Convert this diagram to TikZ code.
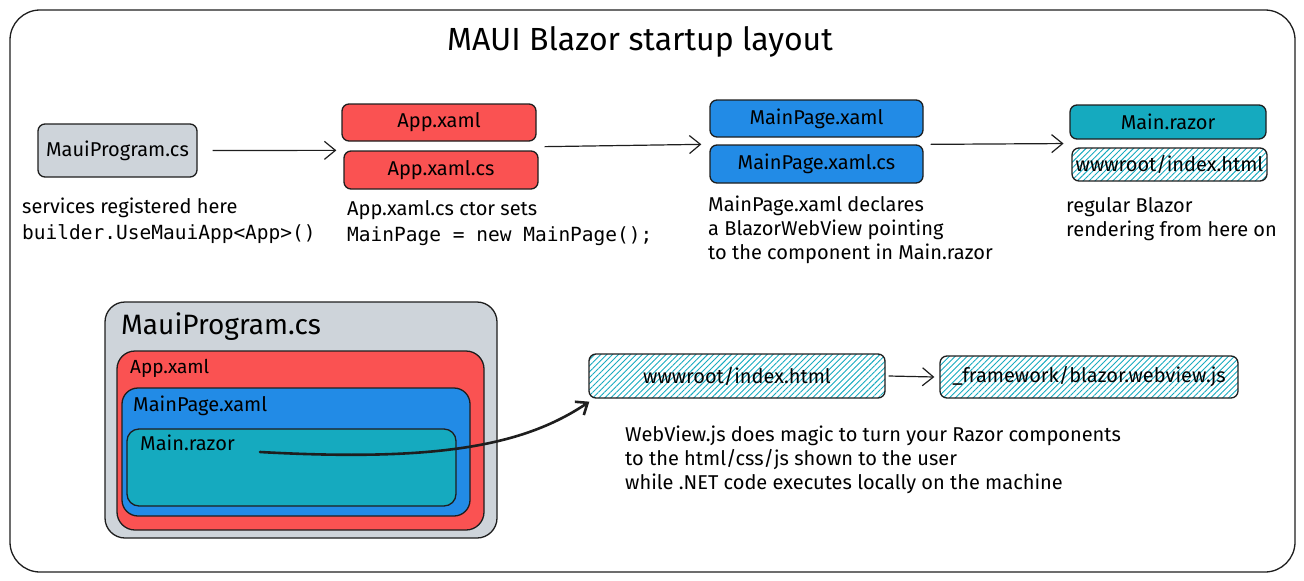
\documentclass[tikz,border=0pt]{standalone}
\usepackage{fontspec}
\setmainfont{Fira Sans}
\setmonofont{DejaVu Sans Mono}
\usetikzlibrary{arrows.meta,patterns.meta}
\definecolor{ink}{HTML}{1E1E1E}
\definecolor{gbox}{HTML}{CED4DA}
\definecolor{rbox}{HTML}{FA5252}
\definecolor{bbox}{HTML}{228BE6}
\definecolor{tbox}{HTML}{15AABF}
\tikzset{
  box/.style={draw=ink, line width=1.3pt, rounded corners=7pt, inner sep=0pt, font=\fontsize{20}{22}\selectfont},
  hatch/.style={box, pattern={Lines[angle=45,distance=4.2pt,line width=0.9pt]}, pattern color=tbox},
  arr/.style={draw=ink, line width=1.2pt, -{Straight Barb[length=11pt,width=18pt,line width=1.2pt]}},
  desc/.style={anchor=north west, align=left, inner sep=0pt, font=\fontsize{20}{24}\selectfont},
  lbl/.style={anchor=north west, inner sep=0pt},
}
\begin{document}
\begin{tikzpicture}[x=1pt,y=-1pt]
\useasboundingbox (0,0) rectangle (1304,581);
% frame
\node[draw=ink, line width=1.3pt, rounded corners=30pt, minimum width=1285pt, minimum height=562pt, inner sep=0pt] (frame) at (652.5,291) {};
\node[font=\fontsize{32}{34}\selectfont] (title) at (640,42) {MAUI Blazor startup layout};

% top row
\node[box, fill=gbox, minimum width=159pt, minimum height=53pt] (mp) at (117.5,150.5) {MauiProgram.cs};
\node[box, fill=rbox, minimum width=194pt, minimum height=37pt] (app) at (439,122.5) {App.xaml};
\node[box, fill=rbox, minimum width=194pt, minimum height=38pt] (appcs) at (441,170) {App.xaml.cs};
\node[box, fill=bbox, minimum width=213pt, minimum height=37pt] (mpx) at (816.5,118.5) {MainPage.xaml};
\node[box, fill=bbox, minimum width=213pt, minimum height=38pt] (mpcs) at (816.5,164) {MainPage.xaml.cs};
\node[box, fill=tbox, minimum width=196pt, minimum height=34pt] (razor) at (1168,122) {Main.razor};
\node[hatch, minimum width=195pt, minimum height=33pt] (idx1) at (1169.5,164.5) {wwwroot/index.html};

\draw[arr] ([xshift=15pt]mp.east) -- ([xshift=-7pt]appcs.north west);
\draw[arr] ([xshift=8pt,yshift=-5pt]app.south east) -- ([xshift=-8pt]mpcs.north west);
\draw[arr] ([xshift=7pt]mpcs.north east) -- ([xshift=-8pt,yshift=4pt]idx1.north west);

% descriptions
\node[desc] (d1) at (22,198) {services registered here\\[2pt]{\fontsize{19.5}{24}\ttfamily builder.UseMauiApp<App>()}};
\node[desc] (d2) at (347,200) {App.xaml.cs ctor sets\\[2pt]{\fontsize{19.5}{24}\ttfamily MainPage = new MainPage();}};
\node[desc] (d3) at (708,196) {MainPage.xaml declares\\a BlazorWebView pointing\\to the component in Main.razor};
\node[desc] (d4) at (1066,197) {regular Blazor\\rendering from here on};

% bottom nested boxes
\node[box, fill=gbox, rounded corners=20pt, minimum width=392pt, minimum height=236pt] (outer) at (301,420) {};
\node[lbl, font=\fontsize{28}{30}\selectfont] (outerl) at (121,312) {MauiProgram.cs};
\node[box, fill=rbox, rounded corners=18pt, minimum width=367pt, minimum height=179pt] (red) at (300.5,440.5) {};
\node[lbl, font=\fontsize{19}{20}\selectfont] (redl) at (130,359) {App.xaml};
\node[box, fill=bbox, rounded corners=16pt, minimum width=348pt, minimum height=128pt] (blue) at (296,452) {};
\node[lbl, font=\fontsize{20}{20}\selectfont] (bluel) at (133,396) {MainPage.xaml};
\node[box, fill=tbox, rounded corners=12pt, minimum width=329pt, minimum height=77pt] (teal) at (291.5,467.5) {};
\node[lbl, font=\fontsize{20}{20}\selectfont] (teall) at (140,435) {Main.razor};

\node[hatch, minimum width=296pt, minimum height=44pt] (idx2) at (737,376) {wwwroot/index.html};
\node[hatch, minimum width=298pt, minimum height=42pt] (fw) at (1089,377) {\_framework/blazor.webview.js};
\draw[arr] ([xshift=3pt]idx2.east) -- ([xshift=-5pt]fw.west);

\coordinate (cs) at (260,452);
\draw[ink, line width=2.6pt, line cap=round, -{Straight Barb[length=10pt,width=16pt,line width=2.6pt]}] (cs) .. controls (440,462) and (525,445) .. ([xshift=1pt,yshift=-3pt]idx2.south west);

\node[desc] (d5) at (625,426) {WebView.js does magic to turn your Razor components\\to the html/css/js shown to the user\\while .NET code executes locally on the machine};
\end{tikzpicture}
\end{document}
